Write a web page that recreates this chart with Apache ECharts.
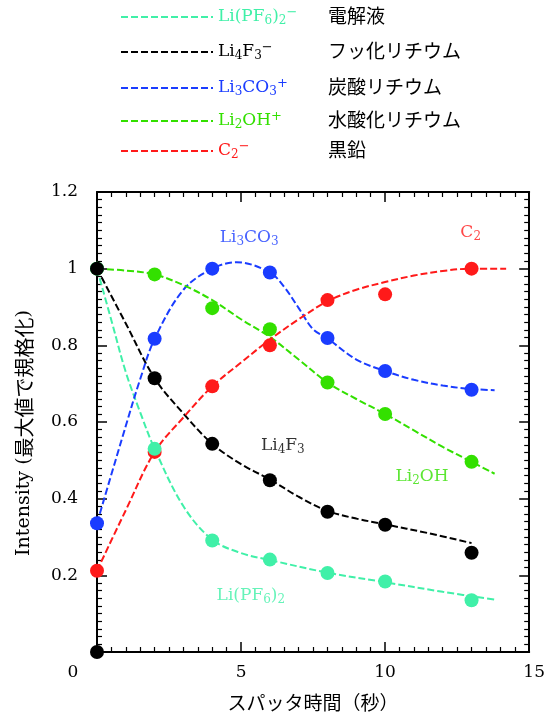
<!DOCTYPE html>
<html><head><meta charset="utf-8">
<script src="https://cdn.jsdelivr.net/npm/echarts@6/dist/echarts.min.js"></script>
<style>html,body{margin:0;padding:0;background:#fff}#c{width:548px;height:717px}</style>
</head><body><div id="c"></div>
<script>
// ---- measured points ----
const timePoints = [0, 2, 4, 6, 8, 10, 13];
const pf6Pts   = [1.0, 0.530, 0.291, 0.241, 0.206, 0.184, 0.135];
const li4f3Pts = [1.0, 0.714, 0.543, 0.448, 0.366, 0.332, 0.259];
const li3co3Pts= [0.336, 0.817, 1.0, 0.99, 0.819, 0.733, 0.684];
const li2ohPts = [1.0, 0.985, 0.897, 0.842, 0.703, 0.621, 0.496];
const c2Pts    = [0.212, 0.522, 0.693, 0.80, 0.918, 0.933, 1.0];
const li4f3Origin = [0, 0];

// ---- fitted (dashed) curves ----
const pf6CurveX = [0, 0.5, 1, 1.5, 2, 3, 4, 5, 6, 8, 10, 12, 13.8];
const pf6CurveY = [1, 0.865, 0.73, 0.625, 0.53, 0.38, 0.293, 0.258, 0.24, 0.207, 0.182, 0.157, 0.137];
const li4f3CurveX = [0, 1, 2, 3, 4, 5, 6, 7, 8, 9, 10, 11.5, 13];
const li4f3CurveY = [1, 0.857, 0.714, 0.622, 0.543, 0.49, 0.45, 0.405, 0.368, 0.348, 0.333, 0.31, 0.284];
const li3co3CurveX = [0, 1, 1.5, 2, 3, 4, 4.85, 6, 6.5, 7, 7.5, 8, 9, 10, 11, 12, 13, 13.8];
const li3co3CurveY = [0.336, 0.59, 0.712, 0.817, 0.945, 1.0, 1.017, 0.99, 0.952, 0.897, 0.842, 0.818, 0.763, 0.733, 0.71, 0.695, 0.686, 0.683];
const li2ohCurveX = [0, 1, 2, 3, 4, 5, 6, 7, 8, 9, 10, 11, 12, 13, 13.8];
const li2ohCurveY = [1, 0.995, 0.985, 0.957, 0.918, 0.868, 0.822, 0.763, 0.703, 0.66, 0.621, 0.578, 0.535, 0.496, 0.465];
const c2CurveX = [0, 1, 2, 3, 4, 5, 6, 7, 8, 9, 10, 11, 12, 13, 14.2];
const c2CurveY = [0.212, 0.37, 0.522, 0.612, 0.693, 0.755, 0.815, 0.868, 0.915, 0.945, 0.965, 0.982, 0.994, 1.0, 1.0];

// ---- texts ----
const seriesNames = ['Li(PF6)2-', 'Li4F3-', 'Li3CO3+', 'Li2OH+', 'C2-'];
const formulaRich = {
  'Li(PF6)2-': '{a|Li(PF}{s|6}{a|)}{s|2}{p|−}',
  'Li4F3-': '{a|Li}{s|4}{a|F}{s|3}{p|−}',
  'Li3CO3+': '{a|Li}{s|3}{a|CO}{s|3}{p|+}',
  'Li2OH+': '{a|Li}{s|2}{a|OH}{p|+}',
  'C2-': '{a|C}{s|2}{p|−}'
};
const japaneseNames = {
  'Li(PF6)2-': '電解液',
  'Li4F3-': 'フッ化リチウム',
  'Li3CO3+': '炭酸リチウム',
  'Li2OH+': '水酸化リチウム',
  'C2-': '黒鉛'
};
const annotations = [
  { text: '{a|Li}{s|3}{a|CO}{s|3}', at: [5.28, 1.081], color: '#1a3cff' },
  { text: '{a|C}{s|2}', at: [12.97, 1.094], color: '#ff1a1a' },
  { text: '{a|Li}{s|4}{a|F}{s|3}', at: [6.45, 0.538], color: '#000000' },
  { text: '{a|Li}{s|2}{a|OH}', at: [11.28, 0.458], color: '#33e000' },
  { text: '{a|Li(PF}{s|6}{a|)}{s|2}', at: [5.34, 0.147], color: '#40f0a8' }
];
const xAxisName = 'スパッタ時間（秒）';
const yAxisName = '{y|Intensity (}{jn|最大値で規格化}{e|)}';

const colors = {
  'Li(PF6)2-': '#40f0a8',
  'Li4F3-': '#000000',
  'Li3CO3+': '#1a3cff',
  'Li2OH+': '#33e000',
  'C2-': '#ff1a1a'
};

const SERIF = 'DejaVu Serif';
const CJK = 'Noto Sans CJK JP';
const richStyles = {
  a: { fontFamily: SERIF, fontSize: 17, lineHeight: 22 },
  s: { fontFamily: SERIF, fontSize: 12, lineHeight: 22, padding: [8, 0, 0, 0] },
  p: { fontFamily: SERIF, fontSize: 13, lineHeight: 22, padding: [0, 0, 9, 0] },
  j: { fontFamily: CJK, fontSize: 19, lineHeight: 22 },
  jn: { fontFamily: CJK, fontSize: 20, lineHeight: 22 },
  y: { fontFamily: SERIF, fontSize: 19, lineHeight: 22 },
  e: { fontFamily: SERIF, fontSize: 19, lineHeight: 22, padding: [0, 22, 0, 0] }
};

const zip = (xs, ys) => xs.map((x, i) => [x, ys[i]]);
const curves = {
  'Li(PF6)2-': zip(pf6CurveX, pf6CurveY),
  'Li4F3-': zip(li4f3CurveX, li4f3CurveY),
  'Li3CO3+': zip(li3co3CurveX, li3co3CurveY),
  'Li2OH+': zip(li2ohCurveX, li2ohCurveY),
  'C2-': zip(c2CurveX, c2CurveY)
};
const points = {
  'Li(PF6)2-': zip(timePoints, pf6Pts),
  'Li4F3-': zip(timePoints, li4f3Pts).concat([li4f3Origin]),
  'Li3CO3+': zip(timePoints, li3co3Pts),
  'Li2OH+': zip(timePoints, li2ohPts),
  'C2-': zip(timePoints, c2Pts)
};

const series = [];
seriesNames.forEach(n => {
  series.push({
    name: n, type: 'line', data: curves[n], smooth: 0.35,
    symbol: 'none', z: 2, clip: false,
    lineStyle: { color: colors[n], width: 2, type: [7, 3] },
    itemStyle: { color: colors[n] }
  });
});
// draw order of markers: green, blue, red, aqua, black
['Li2OH+', 'Li3CO3+', 'C2-', 'Li(PF6)2-', 'Li4F3-'].forEach((n, i) => {
  series.push({
    name: n + ' pts', type: 'scatter', data: points[n], symbol: 'circle', symbolSize: 14,
    itemStyle: { color: colors[n], opacity: 1 }, z: 3 + i, clip: false
  });
});
series.push({
  type: 'scatter', symbolSize: 0, z: 10, silent: true,
  data: annotations.map(a => ({
    value: a.at,
    label: { show: true, position: 'inside', formatter: a.text, color: a.color, rich: richStyles }
  }))
});

const tickCommon = {
  axisLine: { show: true, onZero: false, lineStyle: { color: '#000', width: 2 } },
  axisTick: { show: true, inside: true, length: 10, lineStyle: { color: '#000', width: 1.5 } },
  minorTick: { show: true, splitNumber: 10, length: 5, lineStyle: { color: '#000', width: 1.2 } },
  splitLine: { show: false }, minorSplitLine: { show: false }
};

const option = {
  animation: false,
  backgroundColor: '#fff',
  grid: { left: 97, right: 16, top: 192, bottom: 62 },
  xAxis: [
    Object.assign({
      type: 'value', min: 0, max: 15, interval: 5, position: 'bottom',
      name: xAxisName, nameLocation: 'middle', nameGap: 41,
      nameTextStyle: { fontFamily: CJK, fontSize: 19, color: '#000' },
      axisLabel: {
        margin: 12, color: '#000', fontFamily: SERIF, fontSize: 17,
        formatter: v => v === 0 ? '{z|0}' : (v === 15 ? '{r|15}' : String(v)),
        rich: { z: { fontFamily: SERIF, fontSize: 17, padding: [0, 48, 0, 0] },
                r: { fontFamily: SERIF, fontSize: 17, padding: [0, 0, 0, 10] } }
      }
    }, tickCommon),
    Object.assign({
      type: 'value', min: 0, max: 15, interval: 5, position: 'top',
      axisLabel: { show: false }
    }, tickCommon)
  ],
  yAxis: [
    Object.assign({
      type: 'value', min: 0, max: 1.2, interval: 0.2, position: 'left',
      name: yAxisName, nameLocation: 'middle', nameGap: 62,
      nameTextStyle: { color: '#000', rich: richStyles },
      axisLabel: {
        margin: 19, color: '#000', fontFamily: SERIF, fontSize: 17,
        formatter: v => v === 0 ? '' : String(Math.round(v * 10) / 10)
      }
    }, tickCommon),
    Object.assign({
      type: 'value', min: 0, max: 1.2, interval: 0.2, position: 'right',
      axisLabel: { show: false }
    }, tickCommon)
  ],
  legend: [],
  series
};
// one legend row per series to reproduce the reference's uneven row spacing
const legendTops = [6, 41, 77, 110, 140];
seriesNames.forEach((n, i) => {
  option.legend.push({
    orient: 'vertical', left: 120, top: legendTops[i], padding: 0,
    itemWidth: 92, itemHeight: 12, selectedMode: false,
    itemStyle: { opacity: 0 },
    data: [{ name: n, textStyle: { color: colors[n] } }],
    formatter: m => formulaRich[m],
    textStyle: { rich: richStyles }
  });
  option.legend.push({
    orient: 'vertical', left: 322, top: legendTops[i], padding: 0,
    itemWidth: 0, itemHeight: 0, selectedMode: false,
    itemStyle: { opacity: 0 }, lineStyle: { opacity: 0 },
    data: [{ name: n, textStyle: { color: '#000' } }],
    formatter: m => '{j|' + japaneseNames[m] + '}',
    textStyle: { color: '#000', rich: richStyles }
  });
});

const chart = echarts.init(document.getElementById('c'), null, { renderer: 'canvas' });
chart.setOption(option);
</script>
</body></html>
